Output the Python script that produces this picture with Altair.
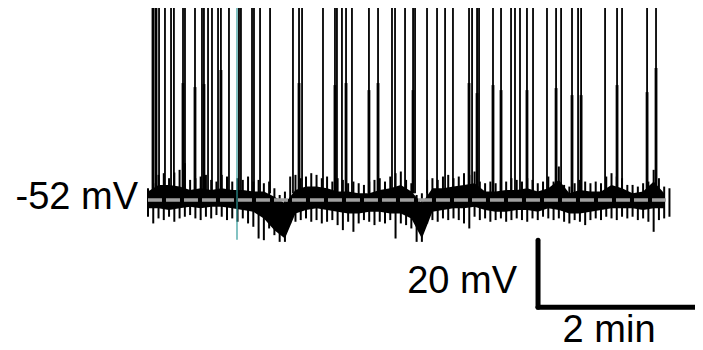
import altair as alt
import pandas as pd

# ---- data (time in s, membrane potential in mV) ----
baseline_mv = -52.0
trace_end_s = 395.0
spike_top_mv = 5.3       # spikes run off the top of the view
spike_base_mv = -50.0

spike_t = [3.8, 6.1, 8.4, 12.9, 17.5, 19.7, 26.6, 28.1, 35.7, 41.0, 42.5, 45.6, 48.6,
           53.2, 55.4, 61.5, 69.1, 70.6, 79.0, 80.5, 85.1, 92.7, 110.1, 114.7, 117.0,
           132.9, 142.0, 143.5, 147.3, 150.4, 154.9, 167.8, 174.7, 185.3, 187.6, 195.2,
           201.3, 202.8, 211.9, 219.5, 225.6, 231.6, 243.8, 246.1, 249.9, 251.4, 262.0,
           268.1, 275.7, 278.7, 282.5, 287.8, 292.4, 303.0, 309.9, 313.7, 322.0, 326.6,
           328.9, 347.1, 356.2, 360.0, 379.0, 385.8]

# dense (dark) lower part of the spikes
burst_t = [3.8, 6.1, 26.6, 35.7, 42.5, 55.4, 114.7, 142.0, 150.4, 167.8, 174.7, 201.3,
           243.8, 249.9, 262.0, 268.1, 287.8, 309.9, 322.0, 328.9, 356.2, 379.0, 385.8]
burst_top = [5.3, 5.3, -17.1, -18.3, -17.4, -13.2, -17.1, -17.7, -17.1, -19.2, -17.1, -19.2,
             -17.1, -20.1, -17.7, -19.2, -19.2, -18.6, -20.7, -20.7, -17.7, -19.8, -12.6]

# noise extremes, sampled every 4 s
env_t = list(range(0, 400, 4))
env_hi = [-48.5, -47.0, -44.5, -44.0, -45.5, -43.8, -43.0, -41.0, -46.0, -45.5,
          -45.0, -44.5, -46.0, -46.5, -44.5, -45.0, -46.5, -45.5, -46.0, -45.0,
          -46.5, -46.0, -47.0, -46.5, -48.5, -50.5, -49.5, -45.0, -44.5, -45.5,
          -45.0, -44.0, -44.5, -45.5, -45.0, -46.5, -45.5, -46.0, -47.0, -46.5,
          -47.0, -47.5, -46.5, -46.0, -45.5, -46.5, -45.0, -44.0, -43.5, -46.0,
          -47.0, -50.5, -50.0, -46.0, -45.5, -46.0, -45.0, -44.5, -45.5, -45.0,
          -44.0, -44.5, -43.5, -46.5, -47.0, -46.5, -47.0, -46.0, -46.5, -45.5,
          -46.0, -46.5, -45.5, -46.0, -47.0, -46.5, -45.0, -46.5, -42.0, -47.5,
          -48.0, -47.0, -46.0, -46.5, -47.0, -46.5, -47.0, -45.0, -44.0, -45.0,
          -45.5, -47.5, -47.5, -48.0, -47.0, -46.5, -43.0, -45.5, -48.0, -48.5]
env_lo = [-57.0, -59.0, -57.5, -58.0, -57.0, -58.5, -57.5, -57.0, -56.5, -57.5,
          -58.0, -57.0, -57.5, -56.5, -57.0, -58.0, -57.5, -58.5, -57.5, -59.0,
          -60.0, -63.5, -64.0, -60.5, -62.5, -64.5, -64.5, -59.0, -58.5, -58.0,
          -57.5, -58.5, -58.0, -59.0, -58.5, -58.0, -59.5, -61.0, -58.5, -61.5,
          -59.0, -58.0, -58.5, -59.5, -58.5, -59.0, -58.0, -63.5, -59.0, -59.5,
          -60.5, -64.5, -64.5, -59.0, -58.0, -58.5, -57.5, -58.0, -57.5, -58.0,
          -59.0, -60.5, -57.0, -58.0, -57.5, -58.5, -58.0, -57.5, -58.5, -58.0,
          -57.5, -58.0, -58.5, -57.5, -58.0, -57.0, -57.5, -58.0, -57.5, -58.5,
          -59.0, -58.0, -58.5, -59.5, -58.0, -57.5, -58.0, -57.0, -57.5, -58.0,
          -57.0, -57.5, -57.0, -58.0, -57.5, -58.5, -61.5, -58.0, -57.5, -57.0]

# solid core of the noise band, sampled every 8 s
core_t = list(range(0, 400, 8))
core_hi = [-49.5, -47.5, -47.5, -48.0, -49.0, -48.5, -49.0, -48.5, -49.0, -49.0,
           -49.5, -49.5, -51.0, -53.0, -49.0, -48.0, -48.0, -48.5, -49.5, -49.5,
           -50.0, -50.0, -49.0, -48.5, -47.5, -49.5, -53.0, -48.5, -48.5, -48.0,
           -47.5, -47.0, -49.5, -49.5, -49.0, -49.0, -48.5, -49.5, -48.5, -46.0,
           -50.0, -49.0, -49.5, -49.5, -47.5, -48.5, -50.0, -49.5, -46.5, -50.0]
core_lo = [-54.5, -54.5, -55.0, -54.5, -54.0, -54.5, -54.0, -54.0, -54.5, -55.0,
           -55.5, -57.5, -61.0, -63.5, -56.0, -55.0, -54.5, -55.0, -55.5, -56.0,
           -56.0, -55.5, -55.5, -56.0, -56.0, -57.5, -63.5, -55.5, -55.0, -54.5,
           -54.5, -54.0, -55.0, -55.5, -55.5, -55.0, -55.0, -55.5, -54.5, -55.0,
           -56.0, -56.0, -55.5, -55.0, -54.5, -54.5, -54.5, -55.0, -54.5, -54.5]

marker_t = 67.6          # teal marker line
marker_lo = -63.9

# scale bar: 2 min x 20 mV
bar_t0 = 296.2
bar_len_s = 120.0
bar_v_top = -64.0
bar_len_mv = 20.0

# ---- chart ----
xs = alt.Scale(domain=[-106.3, 415.4], nice=False, zero=False)
ys = alt.Scale(domain=[-96.78, 5.31], nice=False, zero=False)
FONT = "Liberation Sans"

core_df = pd.DataFrame({"t": core_t, "hi": core_hi, "lo": core_lo})
env_df = pd.DataFrame({"t": env_t, "hi": env_hi, "lo": env_lo})
spk_df = pd.DataFrame({"t": spike_t, "lo": spike_base_mv, "hi": spike_top_mv})
bur_df = pd.DataFrame({"t": burst_t, "lo": spike_base_mv, "hi": burst_top})

core = alt.Chart(core_df).mark_area(color="black", opacity=1).encode(
    x=alt.X("t:Q", scale=xs, axis=None),
    y=alt.Y("hi:Q", scale=ys, axis=None),
    y2="lo:Q")

whisk = alt.Chart(env_df).mark_rule(color="black", strokeWidth=2).encode(
    x=alt.X("t:Q", scale=xs, axis=None),
    y=alt.Y("lo:Q", scale=ys, axis=None),
    y2="hi:Q")

spikes = alt.Chart(spk_df).mark_rule(color="black", strokeWidth=1.8).encode(
    x=alt.X("t:Q", scale=xs, axis=None),
    y=alt.Y("lo:Q", scale=ys, axis=None),
    y2="hi:Q")

bursts = alt.Chart(bur_df).mark_rule(color="black", strokeWidth=2.8).encode(
    x=alt.X("t:Q", scale=xs, axis=None),
    y=alt.Y("lo:Q", scale=ys, axis=None),
    y2="hi:Q")

dash_df = pd.DataFrame({"t": [0.0], "t2": [trace_end_s], "v": [baseline_mv]})
dashed = alt.Chart(dash_df).mark_rule(color="#a0a0a0", strokeWidth=3.5, strokeDash=[14, 4]).encode(
    x=alt.X("t:Q", scale=xs, axis=None), x2="t2:Q",
    y=alt.Y("v:Q", scale=ys, axis=None))

mk_df = pd.DataFrame({"t": [marker_t], "lo": [marker_lo], "hi": [spike_top_mv]})
marker = alt.Chart(mk_df).mark_rule(color="#2f9a9a", strokeWidth=1.2).encode(
    x=alt.X("t:Q", scale=xs, axis=None),
    y=alt.Y("lo:Q", scale=ys, axis=None), y2="hi:Q")

vbar_df = pd.DataFrame({"t": [bar_t0], "v": [bar_v_top], "v2": [bar_v_top - bar_len_mv]})
vbar = alt.Chart(vbar_df).mark_rule(color="black", strokeWidth=5, strokeCap="round").encode(
    x=alt.X("t:Q", scale=xs, axis=None),
    y=alt.Y("v:Q", scale=ys, axis=None), y2="v2:Q")
hbar_df = pd.DataFrame({"t": [bar_t0], "t2": [bar_t0 + bar_len_s], "v": [bar_v_top - bar_len_mv]})
hbar = alt.Chart(hbar_df).mark_rule(color="black", strokeWidth=5, strokeCap="round").encode(
    x=alt.X("t:Q", scale=xs, axis=None), x2="t2:Q",
    y=alt.Y("v:Q", scale=ys, axis=None))

def label(t, v, text, align, dx, dy):
    df = pd.DataFrame({"t": [t], "v": [v], "label": [text]})
    return alt.Chart(df).mark_text(font=FONT, fontSize=38, color="black", align=align,
                                   baseline="alphabetic", dx=dx, dy=dy).encode(
        x=alt.X("t:Q", scale=xs, axis=None),
        y=alt.Y("v:Q", scale=ys, axis=None),
        text="label:N")

lab_base = label(0.0, baseline_mv, "-52 mV", "right", -10, 9)
lab_mv = label(bar_t0, bar_v_top - bar_len_mv / 2, "20 mV", "right", -21, 19)
lab_min = label(bar_t0 + bar_len_s / 2, bar_v_top - bar_len_mv, "2 min", "center", -8, 35)

chart = alt.layer(core, whisk, spikes, bursts, dashed, marker, vbar, hbar,
                  lab_base, lab_mv, lab_min).properties(
    width=687, height=342, padding=0,
    autosize=alt.AutoSizeParams(type="none"),
).configure_view(stroke=None)

chart.save("out.html", embed_options={"renderer": "svg", "actions": False})
